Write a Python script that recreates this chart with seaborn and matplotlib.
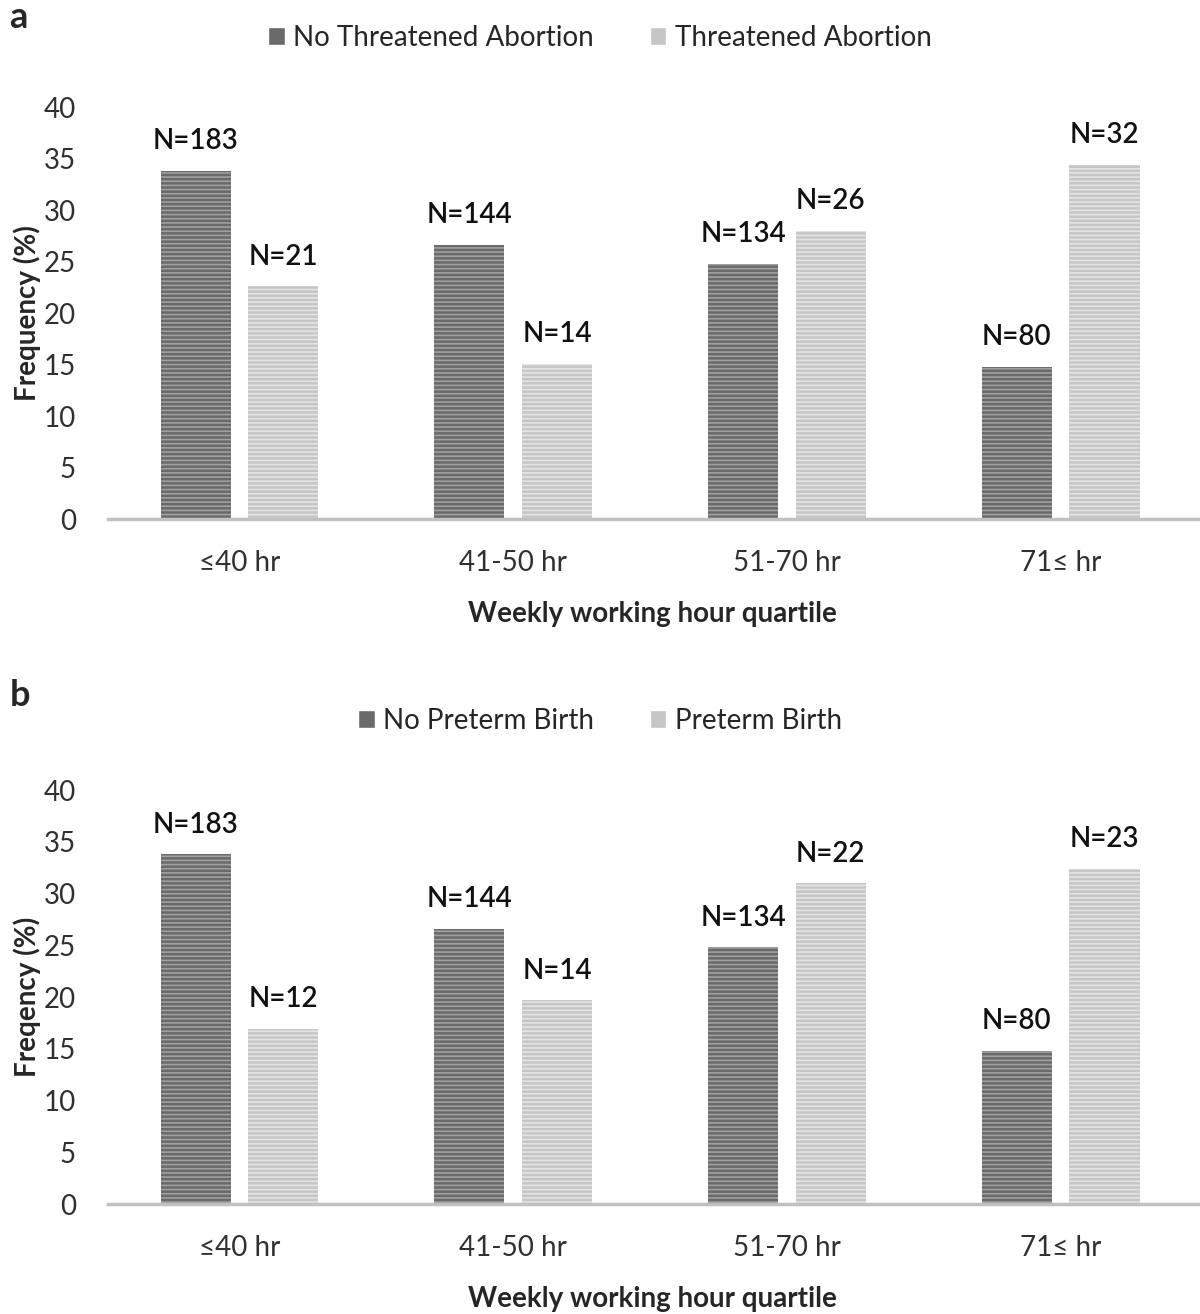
import matplotlib
matplotlib.use("Agg")
import matplotlib.pyplot as plt
from matplotlib.patches import Patch
import seaborn as sns
import pandas as pd

categories = ["≤40 hr", "41-50 hr", "51-70 hr", "71≤ hr"]

# panel a
a_groups = ["No Threatened Abortion", "Threatened Abortion"]
a_no = [33.8, 26.6, 24.8, 14.8]
a_yes = [22.6, 15.1, 28.0, 34.4]
a_n_no = [183, 144, 134, 80]
a_n_yes = [21, 14, 26, 32]

# panel b
b_groups = ["No Preterm Birth", "Preterm Birth"]
b_no = [33.8, 26.6, 24.8, 14.8]
b_yes = [16.9, 19.7, 31.0, 32.4]
b_n_no = [183, 144, 134, 80]
b_n_yes = [12, 14, 22, 23]

sns.set_style("white")
plt.rcParams["font.family"] = ["Lato", "DejaVu Sans"]
plt.rcParams["hatch.linewidth"] = 1.2

face = ["#6a6a6a", "#c6c6c6"]
hatchc = ["#a0a0a0", "#e4e4e4"]
fs = 20


def panel(fig, rect, groups, no_vals, yes_vals, n_no, n_yes, ylabel, letter,
          leg_y, letter_dy):
    ax = fig.add_axes(rect)
    df = pd.DataFrame({
        "cat": categories * 2,
        "grp": [groups[0]] * 4 + [groups[1]] * 4,
        "val": no_vals + yes_vals,
        "n": n_no + n_yes,
    })
    sns.barplot(data=df, x="cat", y="val", hue="grp", hue_order=groups,
                palette=face, width=0.64, gap=0.2, legend=False, ax=ax)
    for i, cont in enumerate(ax.containers):
        for bar in cont:
            bar.set_hatch("----")
            bar.set_edgecolor(hatchc[i])
            bar.set_linewidth(0)
        labels = ["N=%d" % v for v in (n_no if i == 0 else n_yes)]
        ax.bar_label(cont, labels=labels, padding=12, fontsize=fs,
                     fontweight="semibold", color="#111111")
    ax.set_ylim(0, 40)
    ax.set_xlim(-0.48, 3.5)
    ax.set_yticks(range(0, 41, 5))
    for s in ["top", "right", "left"]:
        ax.spines[s].set_visible(False)
    ax.spines["bottom"].set_color("#c0c0c0")
    ax.spines["bottom"].set_linewidth(2.5)
    ax.tick_params(axis="both", length=0, labelsize=fs, colors="#303030")
    ax.tick_params(axis="y", pad=23)
    ax.tick_params(axis="x", pad=22)
    ax.set_xlabel("Weekly working hour quartile", fontsize=fs,
                  fontweight="bold", labelpad=18)
    ax.set_ylabel(ylabel, fontsize=fs, fontweight="bold", labelpad=2)
    handles = [Patch(facecolor=face[0]), Patch(facecolor=face[1])]
    ax.legend(handles, groups, loc="center", bbox_to_anchor=(0.5, leg_y),
              bbox_transform=fig.transFigure,
              ncol=2, frameon=False, fontsize=fs, handlelength=0.6,
              handleheight=0.6, handletextpad=0.3, columnspacing=2.0)
    fig.text(0.008, rect[1] + rect[3] + letter_dy, letter, fontsize=26,
             fontweight="bold", va="center")
    return ax


fig = plt.figure(figsize=(12, 13.14), dpi=100)
panel(fig, [0.09, 0.605, 0.908, 0.3135], a_groups, a_no, a_yes,
      a_n_no, a_n_yes, "Frequency (%)", "a", 1 - 38 / 1314, 0.068)
panel(fig, [0.09, 0.0837, 0.908, 0.315], b_groups, b_no, b_yes,
      b_n_no, b_n_yes, "Freqency (%)", "b", 1 - 721 / 1314, 0.072)
fig.savefig("out.png", dpi=100)
